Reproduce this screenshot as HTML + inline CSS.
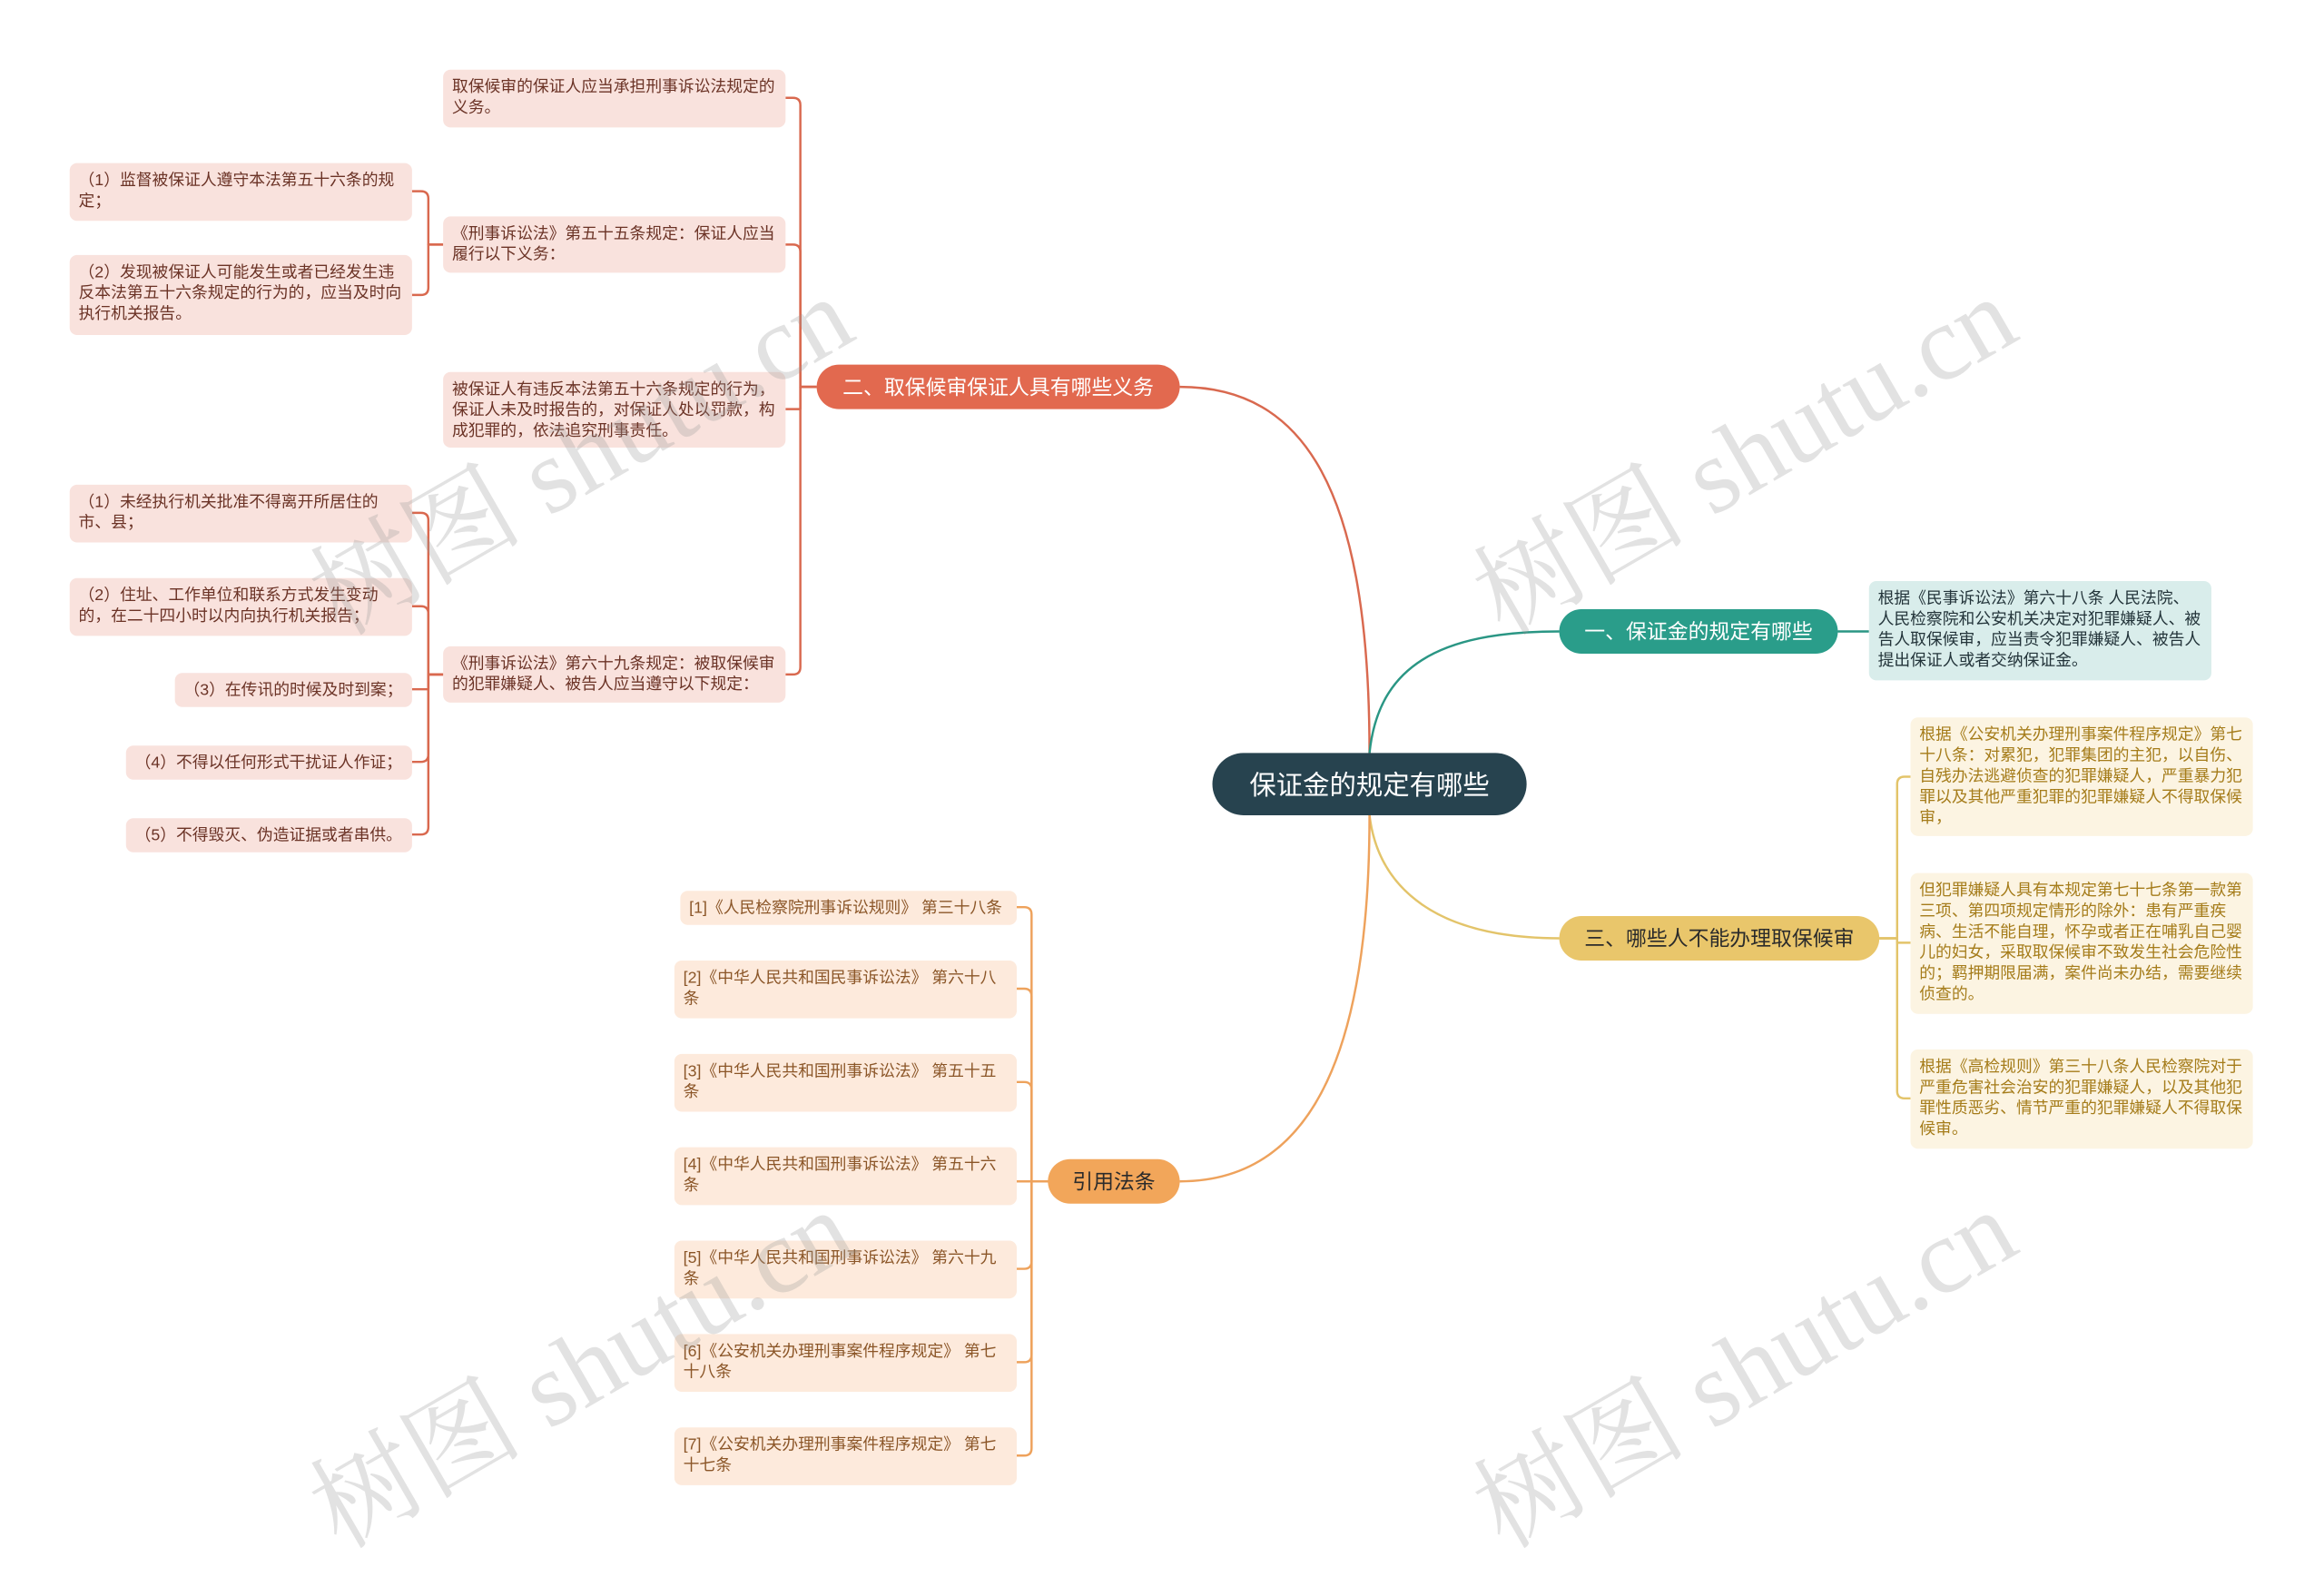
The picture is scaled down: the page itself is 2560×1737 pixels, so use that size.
<!DOCTYPE html>
<html><head><meta charset="utf-8">
<style>
html,body{margin:0;padding:0;background:#fff;width:2560px;height:1715px;overflow:hidden}
#c{position:absolute;left:0;top:0;width:1568px;height:1050px;transform:scale(1.63265);transform-origin:0 0;font-family:"Liberation Sans","Noto Sans CJK SC",sans-serif}
.n{position:absolute;box-sizing:border-box;font-size:10.9px;line-height:14px;padding:5px 5px 5px 6px;border-radius:5px}
.p{background:#f9e2dd;color:#6b3326}
.y{background:#fcf4e2;color:#a57c1a}
.t{background:#d9edeb;color:#23343a}
.o{background:#fdeadc;color:#8b5628}
.b{position:absolute;box-sizing:border-box;border-radius:16px;font-size:14px;display:flex;align-items:center;justify-content:center}
svg{position:absolute;left:0;top:0}
.wm{position:absolute;font-family:"Liberation Serif","Noto Serif CJK SC",serif;font-size:72px;color:rgba(150,150,150,0.28);transform:rotate(-30deg);white-space:nowrap;transform-origin:center}
</style></head><body><div id="c">
<svg width="1568" height="1050" fill="none" stroke-width="1.5" stroke-linejoin="round">
<g stroke="#d9694f">
<path d="M924 508 C924 330 880 261 796 261"/>
<path d="M551 261 H540 V71 Q540 66 535 66 H530"/>
<path d="M551 261 H540 V170 Q540 165 535 165 H530"/>
<path d="M551 261 H540 V276 H530"/>
<path d="M551 261 H540 V450 Q540 455 535 455 H530"/>
<path d="M299 165 H289 V134 Q289 129 284 129 H278"/>
<path d="M299 165 H289 V194 Q289 199 284 199 H278"/>
<path d="M299 455 H289 V351 Q289 346 284 346 H278"/>
<path d="M299 455 H289 V414 Q289 409 284 409 H278"/>
<path d="M299 455 H289 V465 H278"/>
<path d="M299 455 H289 V509 Q289 514 284 514 H278"/>
<path d="M299 455 H289 V558 Q289 563 284 563 H278"/>
</g>
<path stroke="#2a9684" d="M924 508 C930 450 970 426 1052 426"/>
<path stroke="#2a9684" d="M1240 426 H1261"/>
<g stroke="#e3c46a">
<path d="M924 550 C930 600 970 633 1052 633"/>
<path d="M1268 633 H1280 V529 Q1280 524 1285 524 H1289"/>
<path d="M1268 633 H1280 V636 H1289"/>
<path d="M1268 633 H1280 V736 Q1280 741 1285 741 H1289"/>
</g>
<g stroke="#eea25c">
<path d="M924 550 C924 700 890 797 796 797"/>
<path d="M707 797 H696 V617 Q696 612 691 612 H686"/>
<path d="M707 797 H696 V672 Q696 667 691 667 H686"/>
<path d="M707 797 H696 V735 Q696 730 691 730 H686"/>
<path d="M707 797 H686"/>
<path d="M707 797 H696 V851 Q696 856 691 856 H686"/>
<path d="M707 797 H696 V914 Q696 919 691 919 H686"/>
<path d="M707 797 H696 V977 Q696 982 691 982 H686"/>
</g>
</svg>

<div class="b" style="left:818px;top:508px;width:212px;height:42px;border-radius:21px;background:#27434f;color:#fff;font-size:18px">保证金的规定有哪些</div>
<div class="b" style="left:1052px;top:411px;width:188px;height:30px;background:#2a9d8a;color:#fff">一、保证金的规定有哪些</div>
<div class="b" style="left:1052px;top:618px;width:216px;height:30px;background:#e9c66b;color:#2b2b2b">三、哪些人不能办理取保候审</div>
<div class="b" style="left:551px;top:246px;width:245px;height:30px;background:#e2694f;color:#fff">二、取保候审保证人具有哪些义务</div>
<div class="b" style="left:707px;top:782px;width:89px;height:30px;background:#f2a65a;color:#2b2b2b">引用法条</div>

<div class="n t" style="left:1261px;top:392px;width:231px;height:67px">根据《民事诉讼法》第六十八条 人民法院、人民检察院和公安机关决定对犯罪嫌疑人、被告人取保候审，应当责令犯罪嫌疑人、被告人提出保证人或者交纳保证金。</div>
<div class="n y" style="left:1289px;top:484px;width:231px;height:80px">根据《公安机关办理刑事案件程序规定》第七十八条：对累犯，犯罪集团的主犯，以自伤、自残办法逃避侦查的犯罪嫌疑人，严重暴力犯罪以及其他严重犯罪的犯罪嫌疑人不得取保候审，</div>
<div class="n y" style="left:1289px;top:589px;width:231px;height:95px">但犯罪嫌疑人具有本规定第七十七条第一款第三项、第四项规定情形的除外：患有严重疾病、生活不能自理，怀孕或者正在哺乳自己婴儿的妇女，采取取保候审不致发生社会危险性的；羁押期限届满，案件尚未办结，需要继续侦查的。</div>
<div class="n y" style="left:1289px;top:708px;width:231px;height:67px">根据《高检规则》第三十八条人民检察院对于严重危害社会治安的犯罪嫌疑人，以及其他犯罪性质恶劣、情节严重的犯罪嫌疑人不得取保候审。</div>

<div class="n p" style="left:299px;top:47px;width:231px;height:39px">取保候审的保证人应当承担刑事诉讼法规定的义务。</div>
<div class="n p" style="left:299px;top:146px;width:231px;height:38px">《刑事诉讼法》第五十五条规定：保证人应当履行以下义务：</div>
<div class="n p" style="left:299px;top:251px;width:231px;height:51px">被保证人有违反本法第五十六条规定的行为，保证人未及时报告的，对保证人处以罚款，构成犯罪的，依法追究刑事责任。</div>
<div class="n p" style="left:299px;top:436px;width:231px;height:38px">《刑事诉讼法》第六十九条规定：被取保候审的犯罪嫌疑人、被告人应当遵守以下规定：</div>
<div class="n p" style="left:47px;top:110px;width:231px;height:39px">（1）监督被保证人遵守本法第五十六条的规定；</div>
<div class="n p" style="left:47px;top:172px;width:231px;height:54px">（2）发现被保证人可能发生或者已经发生违反本法第五十六条规定的行为的，应当及时向执行机关报告。</div>
<div class="n p" style="left:47px;top:327px;width:231px;height:39px">（1）未经执行机关批准不得离开所居住的市、县；</div>
<div class="n p" style="left:47px;top:390px;width:231px;height:39px">（2）住址、工作单位和联系方式发生变动的，在二十四小时以内向执行机关报告；</div>
<div class="n p" style="left:118px;top:454px;width:160px;height:23px">（3）在传讯的时候及时到案；</div>
<div class="n p" style="left:85px;top:503px;width:193px;height:23px">（4）不得以任何形式干扰证人作证；</div>
<div class="n p" style="left:85px;top:552px;width:193px;height:23px">（5）不得毁灭、伪造证据或者串供。</div>

<div class="n o" style="left:459px;top:601px;width:227px;height:23px">[1]《人民检察院刑事诉讼规则》 第三十八条</div>
<div class="n o" style="left:455px;top:648px;width:231px;height:39px">[2]《中华人民共和国民事诉讼法》 第六十八<br>条</div>
<div class="n o" style="left:455px;top:711px;width:231px;height:39px">[3]《中华人民共和国刑事诉讼法》 第五十五<br>条</div>
<div class="n o" style="left:455px;top:774px;width:231px;height:39px">[4]《中华人民共和国刑事诉讼法》 第五十六<br>条</div>
<div class="n o" style="left:455px;top:837px;width:231px;height:39px">[5]《中华人民共和国刑事诉讼法》 第六十九<br>条</div>
<div class="n o" style="left:455px;top:900px;width:231px;height:39px">[6]《公安机关办理刑事案件程序规定》 第七<br>十八条</div>
<div class="n o" style="left:455px;top:963px;width:231px;height:39px">[7]《公安机关办理刑事案件程序规定》 第七<br>十七条</div>

<div class="wm" style="left:187px;top:250px">树图 shutu.cn</div>
<div class="wm" style="left:972px;top:250px">树图 shutu.cn</div>
<div class="wm" style="left:187px;top:866px">树图 shutu.cn</div>
<div class="wm" style="left:972px;top:866px">树图 shutu.cn</div>
</div></body></html>
